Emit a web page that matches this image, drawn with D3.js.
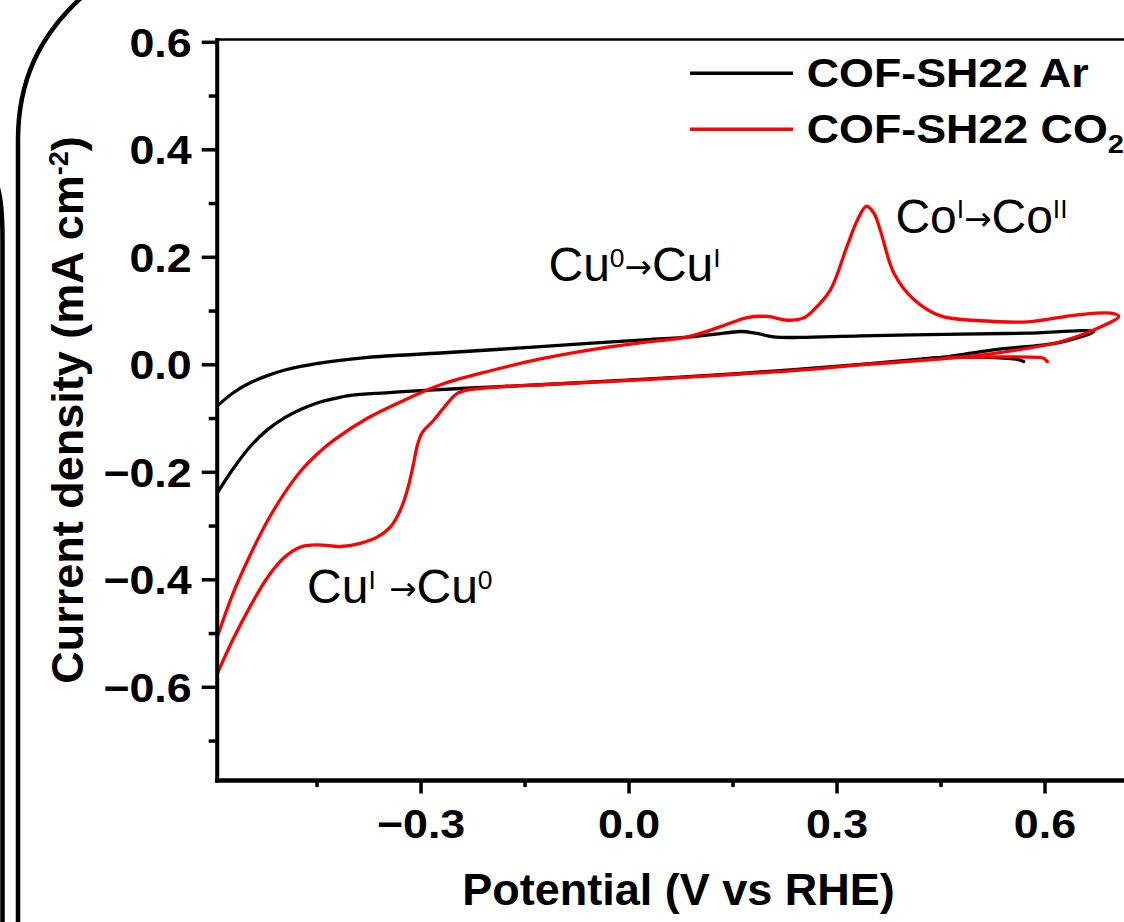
<!DOCTYPE html>
<html><head><meta charset="utf-8">
<script src="https://cdn.jsdelivr.net/npm/d3@7"></script>
<style>html,body{margin:0;padding:0;background:#fff;} svg{display:block;}</style>
</head><body>
<svg id="chart" width="1124" height="922"></svg>
<script>
// ---------- data ----------
const xMajorTicks = [-0.3, 0.0, 0.3, 0.6];
const xMinorTicks = [-0.45, -0.15, 0.15, 0.45, 0.75];
const yMajorTicks = [0.6, 0.4, 0.2, 0.0, -0.2, -0.4, -0.6];
const yMinorTicks = [0.5, 0.3, 0.1, -0.1, -0.3, -0.5, -0.7];
const seriesNames = ["COF-SH22 Ar", "COF-SH22 CO"];
const seriesColors = ["#000000", "#ff0000"];

// Ar: [potential V vs RHE, current density mA cm-2]
const arForward = [[-0.593,-0.239],[-0.569,-0.192],[-0.545,-0.152],[-0.521,-0.122],[-0.497,-0.100],[-0.473,-0.084],[-0.449,-0.072],[-0.425,-0.064],[-0.401,-0.058],[-0.350,-0.053],[-0.300,-0.049],[-0.242,-0.045],[-0.127,-0.038],[0.017,-0.028],[0.162,-0.017],[0.335,0.000],[0.425,0.010],[0.460,0.014],[0.526,0.027],[0.623,0.041],[0.671,0.061]];
const arReverse = [[0.671,0.061],[0.575,0.058],[0.479,0.056],[0.335,0.053],[0.248,0.050],[0.209,0.051],[0.183,0.058],[0.162,0.061],[0.125,0.056],[0.089,0.051],[0.017,0.045],[-0.127,0.033],[-0.185,0.028],[-0.271,0.021],[-0.376,0.013],[-0.425,0.006],[-0.473,-0.004],[-0.497,-0.011],[-0.521,-0.021],[-0.545,-0.034],[-0.569,-0.052],[-0.593,-0.077]];
const arStart = [[0.425,0.010],[0.460,0.0135],[0.520,0.013],[0.561,0.009],[0.570,0.005]];

// CO2
const co2Forward = [[-0.593,-0.507],[-0.570,-0.425],[-0.545,-0.353],[-0.521,-0.292],[-0.497,-0.241],[-0.473,-0.199],[-0.449,-0.167],[-0.425,-0.141],[-0.376,-0.100],[-0.329,-0.070],[-0.271,-0.038],[-0.199,-0.012],[-0.127,0.010],[-0.055,0.027],[0.017,0.040],[0.085,0.051],[0.133,0.070],[0.171,0.087],[0.200,0.089],[0.229,0.082],[0.252,0.086],[0.267,0.101],[0.291,0.138],[0.315,0.219],[0.330,0.268],[0.343,0.294],[0.354,0.281],[0.363,0.250],[0.383,0.169],[0.412,0.120],[0.450,0.090],[0.508,0.081],[0.576,0.079],[0.648,0.092],[0.695,0.095],[0.707,0.089]];
const co2Reverse = [[0.707,0.089],[0.671,0.064],[0.623,0.042],[0.526,0.020],[0.460,0.011],[0.335,-0.001],[0.248,-0.011],[0.162,-0.018],[0.017,-0.029],[-0.127,-0.038],[-0.185,-0.042],[-0.233,-0.048],[-0.247,-0.054],[-0.257,-0.066],[-0.281,-0.104],[-0.298,-0.128],[-0.305,-0.153],[-0.310,-0.184],[-0.319,-0.234],[-0.329,-0.271],[-0.343,-0.302],[-0.362,-0.321],[-0.387,-0.333],[-0.415,-0.339],[-0.449,-0.336],[-0.473,-0.340],[-0.497,-0.360],[-0.521,-0.397],[-0.545,-0.449],[-0.569,-0.508],[-0.593,-0.575]];
const co2Start = [[0.460,0.013],[0.537,0.014],[0.590,0.013],[0.599,0.011],[0.604,0.005]];

// annotations: parts and anchor (potential, current)
const annotationParts = [
  [{t:"Cu"},{t:"0",sup:true},{t:"\u2192",arrow:true},{t:"Cu"},{t:"I",sup:true}],
  [{t:"Co"},{t:"I",sup:true},{t:"\u2192",arrow:true},{t:"Co"},{t:"II",sup:true}],
  [{t:"Cu"},{t:"I",sup:true},{t:"\u00a0"},{t:"\u2192",arrow:true},{t:"Cu"},{t:"0",sup:true}]
];
const annotationAnchors = [[-0.1154, 0.155], [0.385, 0.245], [-0.4636, -0.444]];

// ---------- layout ----------
const fontFam = "'Liberation Sans', Arial, Helvetica, sans-serif";
const plotLeft = 216.7, plotTop = 39.5, plotBottom = 780, plotRight = 1148.5;
const x = d3.scaleLinear().domain([-0.594, 0.75]).range([plotLeft, plotRight]);
const y = d3.scaleLinear().domain([-0.7734, 0.6043]).range([plotBottom, plotTop]);
const svg = d3.select("#chart");

// decorative frame lines at left
svg.append("path").attr("d", "M82,-3 C40,35 18,80 18,140 L18,925")
  .attr("fill", "none").attr("stroke", "#000").attr("stroke-width", 4.5);
svg.append("path").attr("d", "M-3,185 Q2.5,200 2.5,240 L2.5,925")
  .attr("fill", "none").attr("stroke", "#000").attr("stroke-width", 4.5);

// curves
const line = d3.line().x(d => x(d[0])).y(d => y(d[1])).curve(d3.curveCatmullRom.alpha(0.5));
const curveW = 3.3;
[arStart, arForward.concat(arReverse.slice(1))].forEach(d => {
  svg.append("path").attr("d", line(d)).attr("fill", "none")
    .attr("stroke", seriesColors[0]).attr("stroke-width", curveW).attr("stroke-linejoin", "round").attr("stroke-linecap", "round");
});
[co2Forward.concat(co2Reverse.slice(1)), co2Start].forEach(d => {
  svg.append("path").attr("d", line(d)).attr("fill", "none")
    .attr("stroke", seriesColors[1]).attr("stroke-width", curveW).attr("stroke-linejoin", "round").attr("stroke-linecap", "round");
});

// axes
const fmt = d3.format(".1f");
const gx = svg.append("g").attr("transform", `translate(0,${plotBottom})`)
  .call(d3.axisBottom(x).tickValues(xMajorTicks).tickSize(13.5).tickSizeOuter(0).tickFormat(fmt));
const gxm = svg.append("g").attr("transform", `translate(0,${plotBottom})`)
  .call(d3.axisBottom(x).tickValues(xMinorTicks).tickSize(7).tickSizeOuter(0).tickFormat(""));
gxm.select(".domain").remove();
const gy = svg.append("g").attr("transform", `translate(${plotLeft},0)`)
  .call(d3.axisLeft(y).tickValues(yMajorTicks).tickSize(15).tickSizeOuter(0).tickFormat(fmt));
const gym = svg.append("g").attr("transform", `translate(${plotLeft},0)`)
  .call(d3.axisLeft(y).tickValues(yMinorTicks).tickSize(8).tickSizeOuter(0).tickFormat(""));
gym.select(".domain").remove();

gx.select(".domain").attr("stroke", "#000").attr("stroke-width", 4.5).attr("stroke-linecap", "square");
gy.select(".domain").attr("stroke", "#000").attr("stroke-width", 4).attr("stroke-linecap", "square");
[gx, gxm, gy, gym].forEach(g => g.selectAll(".tick line").attr("stroke", "#000").attr("stroke-width", 3.5));

gy.selectAll(".tick text")
  .attr("x", 0).attr("dy", "0.36em")
  .attr("transform", "translate(-25,0) scale(1.12,1)")
  .attr("font-size", 40).attr("font-weight", "bold").attr("font-family", fontFam).attr("fill", "#000");
gx.selectAll(".tick text")
  .attr("y", 0).attr("dy", null)
  .attr("transform", "translate(0,58) scale(1.12,1)")
  .attr("font-size", 40).attr("font-weight", "bold").attr("font-family", fontFam).attr("fill", "#000");

// top border
svg.append("line").attr("x1", plotLeft).attr("x2", plotRight).attr("y1", plotTop).attr("y2", plotTop)
  .attr("stroke", "#000").attr("stroke-width", 2.5);

// axis titles
svg.append("text").attr("x", 678.5).attr("y", 905).attr("text-anchor", "middle")
  .attr("font-family", fontFam).attr("font-weight", "bold").attr("font-size", 45)
  .text("Potential (V vs RHE)");
const yt = svg.append("text").attr("transform", "translate(83,410) rotate(-90)").attr("text-anchor", "middle")
  .attr("font-family", fontFam).attr("font-weight", "bold").attr("font-size", 45);
yt.append("tspan").text("Current density (mA cm");
yt.append("tspan").text("-2").attr("font-size", 27).attr("dy", -15);
yt.append("tspan").text(")").attr("dy", 15);

// legend
seriesNames.forEach((name, i) => {
  const ly = 73.3 + 56 * i;
  svg.append("line").attr("x1", 690).attr("x2", 793).attr("y1", ly).attr("y2", ly)
    .attr("stroke", seriesColors[i]).attr("stroke-width", 3.5);
  const t = svg.append("text").attr("transform", `translate(806.7,${87 + 56 * i}) scale(1.12,1)`)
    .attr("font-family", fontFam).attr("font-weight", "bold").attr("font-size", 40);
  t.append("tspan").text(name);
  if (i === 1) t.append("tspan").text("2").attr("font-size", 26).attr("dy", 10);
});

// annotations
function addRich(parent, parts, base) {
  let shift = 0;
  parts.forEach(p => {
    let size = base, target = 0;
    if (p.sup) { size = base * 0.55; target = -base * 0.3; }
    if (p.arrow) { size = base * 0.68; target = -base * 0.06; }
    const ts = parent.append("tspan").text(p.t).attr("font-size", size).attr("dy", target - shift);
    if (p.arrow) ts.attr("font-family", "'DejaVu Sans', sans-serif");
    shift = target;
  });
}
annotationParts.forEach((parts, i) => {
  const a = annotationAnchors[i];
  const t = svg.append("text").attr("x", x(a[0])).attr("y", y(a[1]))
    .attr("font-family", fontFam).attr("font-size", 48).attr("fill", "#000");
  addRich(t, parts, 48);
});
</script>
</body></html>
